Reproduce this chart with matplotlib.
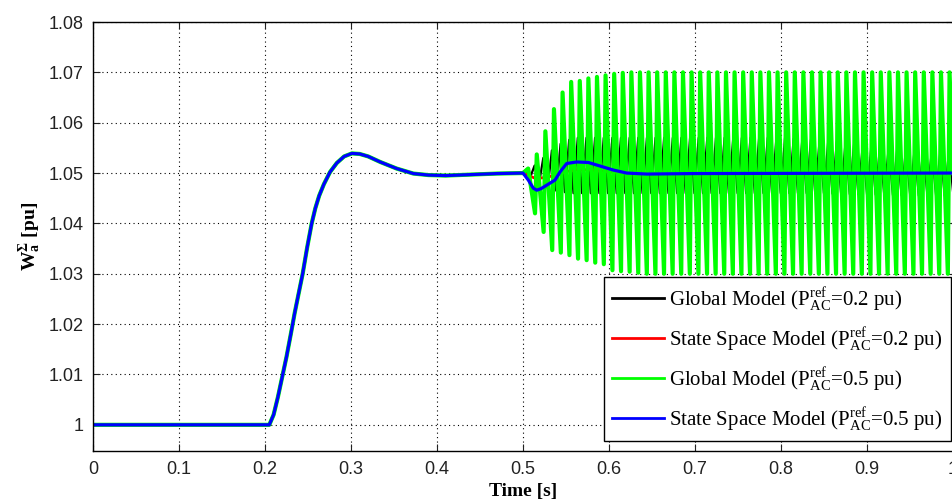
import numpy as np
import matplotlib
matplotlib.use('Agg')
import matplotlib.pyplot as plt

# common start-up transient (all four models coincide before t = 0.5 s)
base_t = [0.0, 0.205, 0.21, 0.215, 0.22, 0.225, 0.23, 0.2345, 0.239, 0.2438,
          0.249, 0.2543, 0.2585, 0.263, 0.2685, 0.2756, 0.2835, 0.292, 0.301, 0.31,
          0.32, 0.334, 0.353, 0.3725, 0.39, 0.41, 0.44, 0.47, 0.5]
base_v = [1.0, 1.0, 1.002, 1.0055, 1.0095, 1.0135, 1.018, 1.0222, 1.026, 1.030,
          1.0352, 1.040, 1.043, 1.0455, 1.0478, 1.0502, 1.052, 1.0533, 1.0539, 1.0538,
          1.0533, 1.0522, 1.0509, 1.0499, 1.0496, 1.0495, 1.0497, 1.0499, 1.05]

# state space model, P_ref = 0.5 pu (blue) after the step
ss05_t = [0.5062, 0.512, 0.516, 0.521, 0.5276, 0.5372, 0.543, 0.5508, 0.5624, 0.576,
          0.5895, 0.605, 0.6206, 0.6438, 0.7, 1.0]
ss05_v = [1.0486, 1.047, 1.0466, 1.0469, 1.0476, 1.0486, 1.0502, 1.0519, 1.0522, 1.0521,
          1.0514, 1.0506, 1.05, 1.0498, 1.0499, 1.05]

# state space model, P_ref = 0.2 pu (red) after the step
ss02_t = [0.508, 0.515, 0.525, 0.54, 0.55, 0.565, 0.58, 0.6, 0.63, 1.0]
ss02_v = [1.0494, 1.0489, 1.0491, 1.0496, 1.0503, 1.0507, 1.0506, 1.0502, 1.05, 1.05]

# global model, P_ref = 0.5 pu (green): oscillation peaks / troughs
g05_peak_t = [0.506, 0.516, 0.526, 0.536, 0.546, 0.556, 0.566, 0.576, 0.586, 0.596,
              0.606, 0.616, 0.626, 0.636, 0.646, 0.656, 0.666, 0.676, 0.686, 0.696,
              0.706, 0.716, 0.726, 0.736, 0.746, 0.756, 0.766, 0.776, 0.786, 0.796,
              0.806, 0.816, 0.826, 0.836, 0.846, 0.856, 0.866, 0.876, 0.886, 0.896,
              0.906, 0.916, 0.926, 0.936, 0.946, 0.956, 0.966, 0.976, 0.986, 0.996]
g05_peak_v = [1.0509, 1.0537, 1.0583, 1.0627, 1.066, 1.0681, 1.0683, 1.0688, 1.0691, 1.0694,
              1.0697, 1.0699, 1.07, 1.07, 1.07, 1.07, 1.07, 1.07, 1.07, 1.07,
              1.07, 1.07, 1.07, 1.07, 1.07, 1.07, 1.07, 1.07, 1.07, 1.07,
              1.07, 1.07, 1.07, 1.07, 1.07, 1.07, 1.07, 1.07, 1.07, 1.07,
              1.07, 1.07, 1.07, 1.07, 1.07, 1.07, 1.07, 1.07, 1.07, 1.07]
g05_trough_t = [0.514, 0.524, 0.534, 0.544, 0.554, 0.564, 0.574, 0.584, 0.594, 0.604,
                0.614, 0.624, 0.634, 0.644, 0.654, 0.664, 0.674, 0.684, 0.694, 0.704,
                0.714, 0.724, 0.734, 0.744, 0.754, 0.764, 0.774, 0.784, 0.794, 0.804,
                0.814, 0.824, 0.834, 0.844, 0.854, 0.864, 0.874, 0.884, 0.894, 0.904,
                0.914, 0.924, 0.934, 0.944, 0.954, 0.964, 0.974, 0.984, 0.994, 1.004]
g05_trough_v = [1.042, 1.0383, 1.0347, 1.0342, 1.0337, 1.033, 1.0327, 1.0322, 1.0319, 1.0307,
                1.0305, 1.0304, 1.0302, 1.03, 1.03, 1.03, 1.03, 1.03, 1.03, 1.03,
                1.03, 1.03, 1.03, 1.03, 1.03, 1.03, 1.03, 1.03, 1.03, 1.03,
                1.03, 1.03, 1.03, 1.03, 1.03, 1.03, 1.03, 1.03, 1.03, 1.03,
                1.03, 1.03, 1.03, 1.03, 1.03, 1.03, 1.03, 1.03, 1.03, 1.03]

# global model, P_ref = 0.2 pu (black): oscillation peaks / troughs
g02_peak_t = [0.5035, 0.5135, 0.5236, 0.5336, 0.5437, 0.5537, 0.5637, 0.5738, 0.5838, 0.5939,
              0.6039, 0.6139, 0.6240, 0.6340, 0.6441, 0.6541, 0.6641, 0.6742, 0.6842, 0.6943,
              0.7043, 0.7143, 0.7244, 0.7344, 0.7445, 0.7545, 0.7645, 0.7746, 0.7846, 0.7947,
              0.8047, 0.8147, 0.8248, 0.8348, 0.8449, 0.8549, 0.8649, 0.8750, 0.8850, 0.8951,
              0.9051, 0.9151, 0.9252, 0.9352, 0.9453, 0.9553, 0.9653, 0.9754, 0.9854, 0.9955]
g02_peak_v = [1.0505, 1.0515, 1.053, 1.0545, 1.0558, 1.0566, 1.057, 1.057, 1.057, 1.057,
              1.057, 1.057, 1.057, 1.057, 1.057, 1.057, 1.057, 1.057, 1.057, 1.057,
              1.057, 1.057, 1.057, 1.057, 1.057, 1.057, 1.057, 1.057, 1.057, 1.057,
              1.057, 1.0568, 1.0567, 1.0566, 1.0565, 1.0563, 1.0562, 1.056, 1.0558, 1.0556,
              1.0554, 1.0552, 1.055, 1.0549, 1.0548, 1.0547, 1.0546, 1.0545, 1.0545, 1.0545]
g02_trough_t = [0.5085, 0.5185, 0.5286, 0.5386, 0.5487, 0.5587, 0.5687, 0.5788, 0.5888, 0.5989,
                0.6089, 0.6189, 0.6290, 0.6390, 0.6491, 0.6591, 0.6691, 0.6792, 0.6892, 0.6993,
                0.7093, 0.7193, 0.7294, 0.7394, 0.7495, 0.7595, 0.7695, 0.7796, 0.7896, 0.7997,
                0.8097, 0.8197, 0.8298, 0.8398, 0.8499, 0.8599, 0.8699, 0.8800, 0.8900, 0.9001,
                0.9101, 0.9201, 0.9302, 0.9402, 0.9503, 0.9603, 0.9703, 0.9804, 0.9904, 1.0005]
g02_trough_v = [1.0492, 1.0478, 1.047, 1.0465, 1.0462, 1.046, 1.046, 1.046, 1.046, 1.046,
                1.046, 1.046, 1.046, 1.046, 1.046, 1.046, 1.046, 1.046, 1.046, 1.046,
                1.046, 1.046, 1.046, 1.046, 1.046, 1.046, 1.046, 1.046, 1.046, 1.046,
                1.046, 1.046, 1.046, 1.046, 1.046, 1.0459, 1.0459, 1.0458, 1.0458, 1.0457,
                1.0457, 1.0456, 1.0456, 1.0456, 1.0455, 1.0455, 1.0455, 1.0455, 1.0455, 1.0455]

xticks = [0, 0.1, 0.2, 0.3, 0.4, 0.5, 0.6, 0.7, 0.8, 0.9, 1.0]
xtick_labels = ['0', '0.1', '0.2', '0.3', '0.4', '0.5', '0.6', '0.7', '0.8', '0.9', '1']
yticks = [1.0, 1.01, 1.02, 1.03, 1.04, 1.05, 1.06, 1.07, 1.08]
ytick_labels = ['1', '1.01', '1.02', '1.03', '1.04', '1.05', '1.06', '1.07', '1.08']

labels = [r'Global Model (P$\mathregular{^{ref}_{AC}}$=0.2 pu)',
          r'State Space Model (P$\mathregular{^{ref}_{AC}}$=0.2 pu)',
          r'Global Model (P$\mathregular{^{ref}_{AC}}$=0.5 pu)',
          r'State Space Model (P$\mathregular{^{ref}_{AC}}$=0.5 pu)']


def interleave(a, b):
    out = []
    for x, y in zip(a, b):
        out += [x, y]
    return out


def series(tail_t, tail_v):
    return np.array(base_t + tail_t), np.array(base_v + tail_v)


g02 = series(interleave(g02_peak_t, g02_trough_t), interleave(g02_peak_v, g02_trough_v))
s02 = series(ss02_t, ss02_v)
g05 = series(interleave(g05_peak_t, g05_trough_t), interleave(g05_peak_v, g05_trough_v))
s05 = series(ss05_t, ss05_v)

fig = plt.figure(figsize=(9.52, 5.0), dpi=100)
ax = fig.add_axes([93 / 952, 49 / 500, 860 / 952, 429 / 500])

ax.plot(g02[0], g02[1], color='black', lw=1.6, label=labels[0])
ax.plot(s02[0], s02[1], color='#ff0000', lw=2, label=labels[1])
ax.plot(g05[0], g05[1], color='#00ff00', lw=3.0, label=labels[2])
ax.plot(s05[0], s05[1], color='#0000ff', lw=2.3, label=labels[3])

ax.set_xlim(0, 1)
ax.set_ylim(0.9948, 1.08)
ax.set_xticks(xticks)
ax.set_xticklabels(xtick_labels, fontfamily='Liberation Sans', fontsize=13)
ax.set_yticks(yticks)
ax.set_yticklabels(ytick_labels, fontfamily='Liberation Sans', fontsize=13)
ax.tick_params(direction='in', top=True, right=True, length=5, width=0.8, pad=7,
               colors='#222222')
ax.grid(True, color='black', linestyle=(0, (1, 3)), lw=0.8)
ax.set_axisbelow(True)
for s in ax.spines.values():
    s.set_linewidth(1.0)

ax.set_xlabel('Time [s]', fontfamily='Liberation Serif', fontweight='bold', fontsize=14)
ax.set_ylabel(r'W$\mathregular{^{\Sigma}_{a}}$ [pu]', fontfamily='Liberation Serif',
              fontweight='bold', fontsize=14)

leg = ax.legend(loc='lower right', bbox_to_anchor=(0.9977, 0.023), borderaxespad=0,
                prop={'family': 'Liberation Serif', 'size': 15}, fancybox=False,
                framealpha=1, edgecolor='black', handlelength=2.5, labelspacing=0.6,
                handletextpad=0.25, borderpad=0.4)
leg.get_frame().set_linewidth(1.0)
for h in leg.get_lines():
    h.set_linewidth(2)

fig.savefig('out.png', dpi=100)
